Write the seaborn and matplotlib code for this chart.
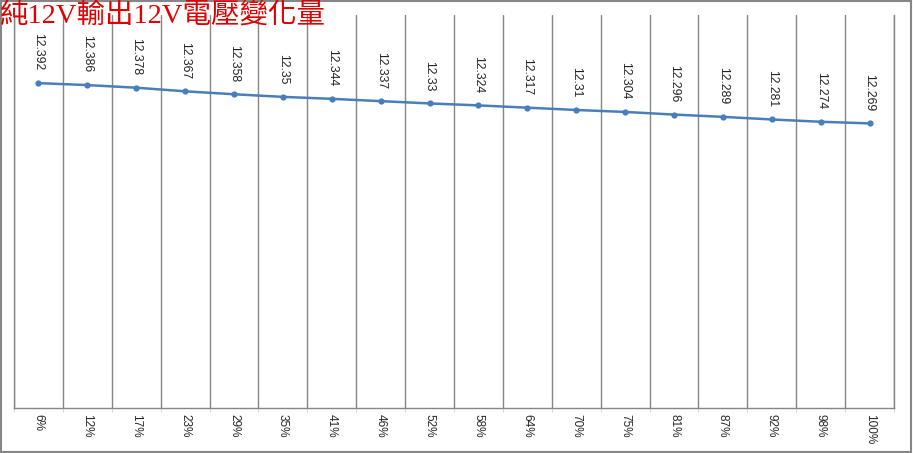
import numpy as np
import pandas as pd
import seaborn as sns
import matplotlib.pyplot as plt
from matplotlib.patches import Rectangle

# data
load_pct = ['6%', '12%', '17%', '23%', '29%', '35%', '41%', '46%', '52%',
            '58%', '64%', '70%', '75%', '81%', '87%', '92%', '98%', '100%']
volt_12v = [12.392, 12.386, 12.378, 12.367, 12.358, 12.35, 12.344, 12.337, 12.33,
            12.324, 12.317, 12.31, 12.304, 12.296, 12.289, 12.281, 12.274, 12.269]
title = '純12V輸出12V電壓變化量'

sns.set_style('white')
plt.rcParams['font.family'] = ['Liberation Sans', 'DejaVu Sans']

df = pd.DataFrame({'load': load_pct, 'volt': volt_12v})
df['x'] = np.arange(len(df))

fig = plt.figure(figsize=(9.13, 4.53), dpi=100)
ax = fig.add_axes([14 / 913, 45 / 453, 880 / 913, 393 / 453])

sns.lineplot(data=df, x='x', y='volt', ax=ax, color='#4a7ebb', lw=1.8,
             marker='o', markersize=4.5, markeredgewidth=0)

for i, v in enumerate(volt_12v):
    ax.annotate(f'{v:g}', (i, v), xytext=(0, 9), textcoords='offset points',
                rotation=270, ha='center', va='bottom', fontsize=8.8,
                color='#222222')

ax.set_xlim(-0.5, len(df) - 0.5)
ax.set_ylim(11.4, 12.6)
ax.set_xticks(df['x'])
ax.set_xticklabels(load_pct, rotation=270, fontsize=8.5, va='top')
ax.set_xticks(np.arange(-0.5, len(df), 1), minor=True)
ax.tick_params(axis='x', which='major', length=0, pad=4)
ax.tick_params(axis='x', which='minor', length=3, color='#d0d0d0', bottom=True)
ax.set_yticks([])
ax.grid(False)
ax.grid(True, which='minor', axis='x', color='#868686', lw=1)
ax.set_xlabel('')
ax.set_ylabel('')
for s in ['left', 'right', 'bottom']:
    ax.spines[s].set_color('#868686')
    ax.spines[s].set_linewidth(1)
ax.spines['top'].set_visible(False)

fig.text(0.0, 1 - 2 / 453, title, ha='left', va='top', fontsize=20.5,
         color='#e00000', family=['Liberation Serif', 'Noto Sans CJK TC'])

fig.patches.append(Rectangle((0.001, 0.002), 0.997, 0.996, transform=fig.transFigure,
                             fill=False, edgecolor='#868686', lw=1.5))

fig.savefig('out.png', dpi=100)
